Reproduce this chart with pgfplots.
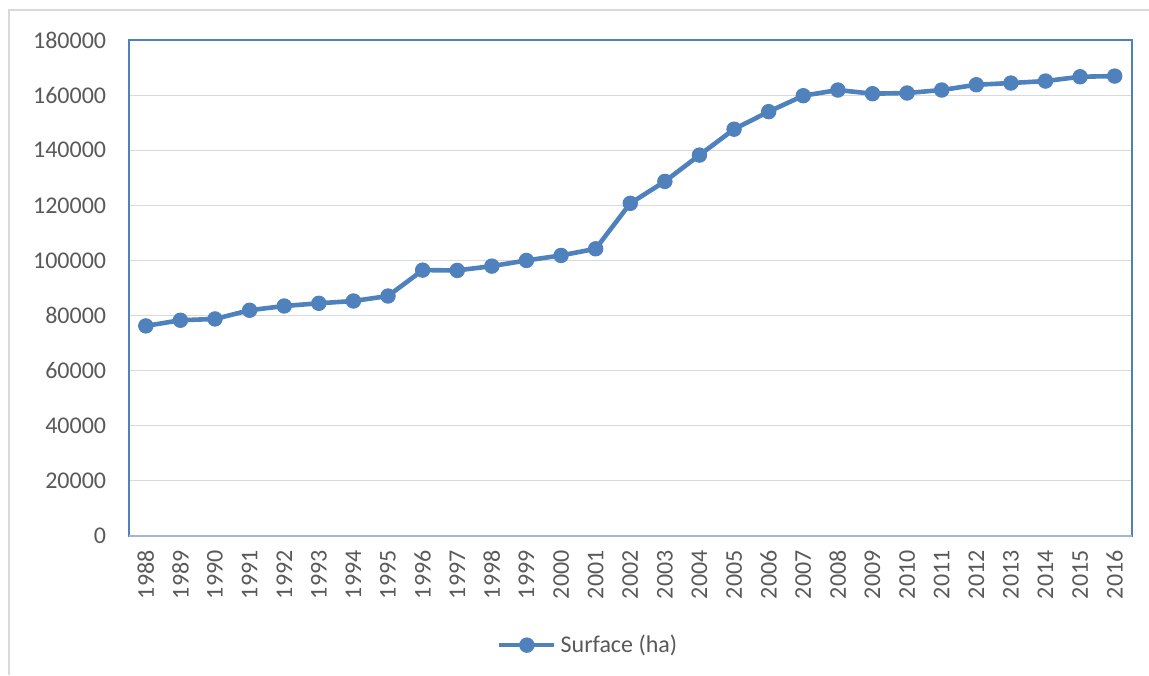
\documentclass[border=0pt]{standalone}
\usepackage{pgfplots}
\pgfplotsset{compat=1.18}
\usepackage{fontspec}
\setmainfont{Carlito}
\definecolor{ser}{RGB}{79,129,189}
\definecolor{txt}{RGB}{89,89,89}
\definecolor{grd}{RGB}{217,217,217}
\definecolor{bot}{RGB}{160,182,212}
\begin{document}
\begin{tikzpicture}
\path[use as bounding box] (0,0) rectangle (574.5pt,337.5pt);
\draw[grd, line width=0.8pt] (4.5pt,0pt) -- (4.5pt,332.5pt) -- (574.5pt,332.5pt);
\begin{axis}[
  at={(64.25pt,69.5pt)}, anchor=south west,
  scale only axis, width=501.75pt, height=248pt,
  xmin=-0.5, xmax=28.5, ymin=0, ymax=180000,
  xtick={0,...,28},
  xticklabels={1988,1989,1990,1991,1992,1993,1994,1995,1996,1997,1998,1999,2000,2001,2002,2003,2004,2005,2006,2007,2008,2009,2010,2011,2012,2013,2014,2015,2016},
  ytick={0,20000,...,180000},
  scaled y ticks=false,
  /pgf/number format/.cd, 1000 sep={}, assume math mode=true, fixed,
  /pgfplots/.cd,
  ymajorgrids, major grid style={grd, line width=0.6pt},
  major tick length=0pt,
  axis line style={ser, line width=1pt},
  tick label style={font=\fontsize{12}{14}\selectfont, text=txt},
  xticklabel style={rotate=90, anchor=east, inner sep=0pt},
  yticklabel style={anchor=east, inner sep=0pt},
  xticklabel shift=7pt, yticklabel shift=11pt,
  legend style={at={(0.459,-0.22)}, anchor=center, draw=none, fill=none,
    font=\fontsize{12}{14}\selectfont, text=txt},
  legend image code/.code={\draw[#1,mark repeat=2,mark phase=2] plot coordinates {(0pt,0pt) (13.75pt,0pt) (27.5pt,0pt)};},
]
\draw[bot, line width=1pt] (rel axis cs:0,0) -- (rel axis cs:1,0);
\addplot[ser, line width=2.3pt, mark=*, mark size=3.6pt, mark options={fill=ser, draw=ser, line width=0.5pt}] coordinates {
(0,76240) (1,78300) (2,78770) (3,81920) (4,83470) (5,84450) (6,85280) (7,87090)
(8,96490) (9,96380) (10,97940) (11,100000) (12,101810) (13,104230)
(14,120720) (15,128680) (16,138230) (17,147630) (18,154000) (19,159780)
(20,161840) (21,160510) (22,160760) (23,161840) (24,163760) (25,164380)
(26,165100) (27,166660) (28,166910)
};
\addlegendentry{Surface (ha)}
\end{axis}
\end{tikzpicture}
\end{document}
